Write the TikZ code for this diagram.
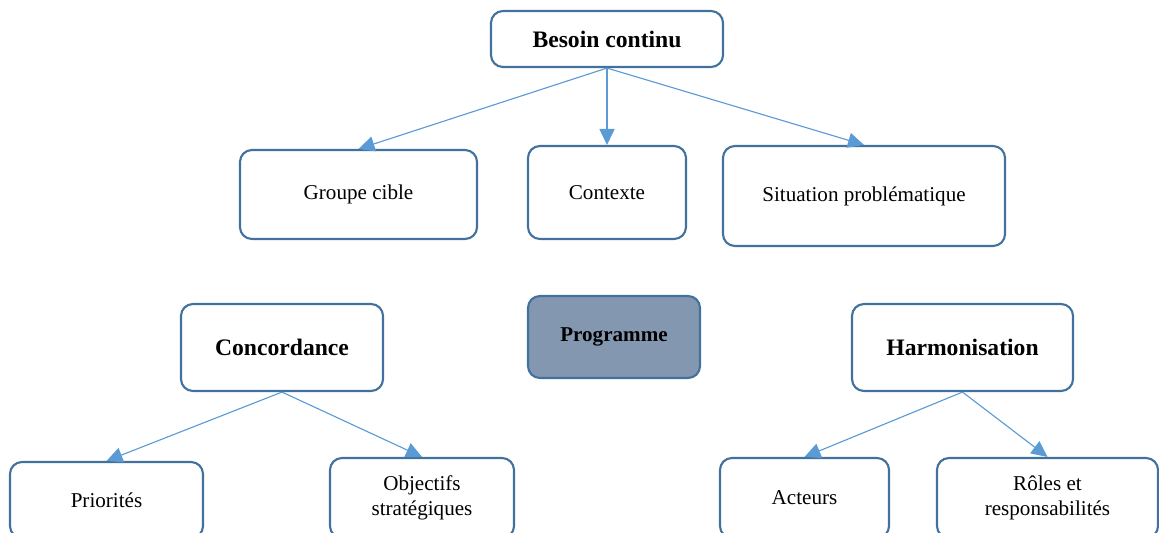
\documentclass[tikz,border=0pt]{standalone}
\usepackage{fontspec}
\setmainfont{Liberation Serif}
\usepackage{tikz}
\usetikzlibrary{arrows.meta, positioning}
\definecolor{boxline}{HTML}{41719C}
\definecolor{arrowline}{HTML}{5B9BD5}
\definecolor{progfill}{HTML}{8497B0}

\begin{document}
\begin{tikzpicture}[
    x=0.025cm, y=-0.025cm,
    box/.style={
        draw=boxline,
        line width=1.5pt,
        rounded corners=0.3cm,
        fill=white,
        align=center,
        font=\fontsize{15}{18}\selectfont
    },
    headbox/.style={
        box,
        font=\fontsize{16.8}{19}\selectfont\bfseries
    },
    link/.style={
        draw=arrowline,
        line width=0.8pt,
        -{Triangle[length=0.4cm, width=0.38cm]}
    }
]
\useasboundingbox (0,0) rectangle (1159,533);
\clip (0,0) rectangle (1159,533);

% Top level
\node[headbox, minimum width=5.8cm, minimum height=1.4cm] (besoin) at (607,39) {Besoin continu};

\node[box, minimum width=5.925cm, minimum height=2.225cm] (groupe) at (358.5,194.5) {Groupe cible};
\node[box, minimum width=3.95cm, minimum height=2.325cm] (contexte) at (607,192.5) {Contexte};
\node[box, minimum width=7.05cm, minimum height=2.5cm] (situation) at (864,196) {Situation problématique};

% Middle row
\node[headbox, minimum width=5.05cm, minimum height=2.175cm] (concord) at (282,347.5) {Concordance};
\node[box, fill=progfill, minimum width=4.3cm, minimum height=2.05cm,
      font=\fontsize{15}{17}\selectfont\bfseries] (prog) at (614,337) {Programme};
\node[headbox, minimum width=5.525cm, minimum height=2.175cm] (harmon) at (962.5,347.5) {Harmonisation};

% Bottom row (cut off by the lower edge)
\node[box, minimum width=4.825cm, minimum height=1.9cm] (prior) at (106.5,500) {Priorités};
\node[box, minimum width=4.6cm, minimum height=2.0cm] (objectifs) at (422,498) {Objectifs\\stratégiques};
\node[box, minimum width=4.225cm, minimum height=2.0cm] (acteurs) at (804.5,498) {Acteurs};
\node[box, minimum width=5.525cm, minimum height=2.0cm] (roles) at (1047.5,498) {Rôles et\\responsabilités};

% Arrows
\draw[link] (besoin.south) -- (groupe.north);
\draw[link] (besoin.south) -- (contexte.north);
\draw[link] (besoin.south) -- (situation.north);

\draw[link] (concord.south) -- (prior.north);
\draw[link] (concord.south) -- (objectifs.north);

\draw[link] (harmon.south) -- (acteurs.north);
\draw[link] (harmon.south) -- (roles.north);

\end{tikzpicture}
\end{document}
